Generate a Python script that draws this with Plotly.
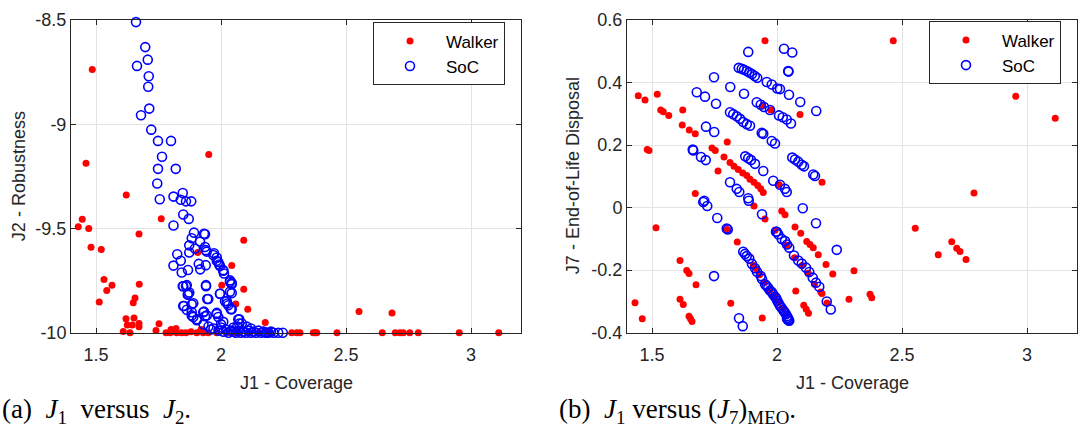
import plotly.graph_objects as go

# ---------------- data: (a) J1 vs J2 ----------------
walker_a_x = [1.485, 1.46, 1.951, 1.621, 1.761, 1.445, 1.429, 1.471, 1.672, 1.48, 1.521, 2.091,
              1.907, 2.043, 1.532, 1.564, 1.543, 1.673, 2.003, 2.091, 1.513, 1.656, 1.649, 2.059,
              2.107, 2.177, 1.752, 1.62, 1.652, 1.672, 1.672, 1.625, 1.645, 1.609, 1.636, 1.74,
              1.78, 1.796, 1.809, 1.823, 1.843, 1.86, 1.88, 1.903, 1.929, 1.949, 1.983, 2.023,
              2.063, 2.116, 2.156, 2.196, 2.283, 2.303, 2.316, 2.369, 2.377, 2.383, 2.464, 2.645,
              2.697, 2.716, 2.729, 2.755, 2.789, 2.953, 3.111, 1.80, 1.82, 1.92, 2.552, 2.684]
walker_a_y = [-8.737, -9.187, -9.145, -9.339, -9.453, -9.456, -9.492, -9.50, -9.526, -9.59, -9.601, -9.556,
              -9.615, -9.678, -9.745, -9.772, -9.798, -9.767, -9.772, -9.792, -9.853, -9.833, -9.856, -9.862,
              -9.887, -9.951, -9.957, -9.933, -9.930, -9.956, -9.971, -9.963, -9.963, -9.994, -10.0, -9.99,
              -10.0, -10.0, -9.995, -10.0, -10.0, -10.0, -9.995, -10.0, -10.0, -10.0, -10.0, -10.0,
              -10.0, -10.0, -10.0, -10.0, -10.0, -10.0, -10.0, -10.0, -10.0, -10.0, -10.0, -10.0,
              -10.0, -10.0, -10.0, -10.0, -10.0, -10.0, -10.0, -9.985, -9.98, -9.985, -9.898, -9.905]

soc_a_x = [1.66, 1.697, 1.707, 1.664, 1.711, 1.709, 1.713, 1.68, 1.721, 1.748, 1.80, 1.764, 1.748,
           1.819, 1.745, 1.847, 1.755, 1.81, 1.839, 1.86, 1.881, 1.849, 1.871, 1.81, 1.892, 1.936,
           1.883, 1.916, 1.873, 1.896, 1.936, 1.939, 1.873, 1.825, 1.839, 1.969, 1.983, 1.993, 1.81,
           1.911, 1.939, 1.917, 1.843, 1.868, 2.009, 2.012, 2.036, 2.043, 1.849, 1.863, 1.94, 1.867,
           1.873, 1.996, 2.043, 1.945, 2.023, 2.029, 1.852, 1.889, 1.863, 1.883, 2.043, 1.932, 1.983,
           2.073, 1.889, 1.905, 1.943, 2.083, 2.103, 2.009, 1.932, 1.943, 1.972, 1.983, 1.989, 1.996,
           2.009, 2.036, 2.043, 2.036, 1.847, 1.86, 1.869, 1.94, 1.949, 1.996, 1.849, 1.883, 2.016,
           2.025, 2.039, 1.883, 1.903, 1.929, 1.936, 1.983, 1.989, 2.069, 2.073,
           1.93, 1.95, 1.97, 1.99, 2.0, 2.01, 2.02, 2.03, 2.04, 2.05, 2.06, 2.07, 2.08, 2.09, 2.10,
           2.11, 2.12, 2.13, 2.14, 2.15, 2.16, 2.17, 2.18, 2.19, 2.2, 2.21, 2.229, 2.247, 2.183,
           1.96, 2.0, 2.05, 2.12, 2.065]
soc_a_y = [-8.51, -8.63, -8.69, -8.72, -8.77, -8.82, -8.925, -8.957, -9.026, -9.08, -9.08, -9.156, -9.214,
           -9.214, -9.284, -9.33, -9.36, -9.347, -9.362, -9.37, -9.37, -9.433, -9.454, -9.486, -9.52, -9.528,
           -9.547, -9.563, -9.581, -9.596, -9.589, -9.604, -9.615, -9.624, -9.655, -9.627, -9.655, -9.673, -9.678,
           -9.67, -9.676, -9.696, -9.711, -9.699, -9.70, -9.716, -9.749, -9.761, -9.777, -9.772, -9.772, -9.818,
           -9.807, -9.813, -9.81, -9.838, -9.849, -9.868, -9.872, -9.859, -9.89, -9.902, -9.887, -9.899, -9.905,
           -9.936, -9.925, -9.936, -9.917, -9.956, -9.971, -9.948, -9.525, -9.611, -9.619, -9.639, -9.661, -9.68,
           -9.703, -9.757, -9.767, -9.803, -9.777, -9.777, -9.813, -9.777, -9.838, -9.813, -9.872, -9.864, -9.849,
           -9.86, -9.887, -9.917, -9.94, -9.902, -9.921, -9.91, -9.925, -9.936, -9.956,
           -9.96, -9.97, -9.98, -9.99, -9.975, -9.995, -9.985, -10.0, -9.99, -9.995, -10.0, -9.99, -10.0, -9.995, -10.0,
           -9.99, -10.0, -9.995, -10.0, -9.99, -10.0, -9.995, -10.0, -10.0, -9.995, -10.0, -10.0, -10.0, -10.0,
           -9.985, -9.96, -9.975, -9.98, -9.97]

# ---------------- data: (b) J1 vs (J7)MEO ----------------
walker_b_x = [1.952, 1.445, 1.472, 1.521, 1.535, 1.545, 1.567, 1.623, 1.621, 1.649, 1.673, 1.481, 1.488,
              1.801, 1.943, 1.975, 2.092, 1.74, 1.753, 1.788, 1.764, 1.812, 1.828, 1.845, 1.863, 1.879,
              1.892, 1.908, 1.923, 1.935, 1.945, 2.009, 2.18, 1.673, 1.908, 1.952, 2.019, 2.032, 1.516,
              1.801, 1.992, 2.072, 2.095, 1.841, 2.119, 2.132, 2.145, 2.165, 2.196, 2.223, 1.612, 1.639,
              1.648, 1.676, 1.905, 1.919, 2.075, 2.107, 2.117, 2.126, 2.18, 1.432, 1.461, 1.612, 1.625,
              1.648, 1.654, 1.66, 1.815, 1.941, 2.465, 2.955, 3.113, 2.788, 2.553, 2.699, 2.719, 2.732,
              2.645, 2.756, 2.308, 2.288, 2.372, 2.379,
              1.93, 1.95, 1.97, 1.99, 2.005, 2.02, 2.035, 2.04, 2.07, 2.1, 2.125, 2.15, 2.175, 2.2]
walker_b_y = [0.534, 0.358, 0.344, 0.363, 0.312, 0.307, 0.295, 0.312, 0.264, 0.248, 0.236, 0.186, 0.183,
              0.21, 0.327, 0.312, 0.298, 0.191, 0.183, 0.162, 0.117, 0.144, 0.132, 0.122, 0.111, 0.103,
              0.091, 0.081, 0.071, 0.06, 0.048, 0.073, 0.081, 0.045, 0.005, -0.036, -0.011, -0.023, -0.064,
              -0.07, -0.072, -0.062, -0.082, -0.11, -0.108, -0.118, -0.128, -0.151, -0.182, -0.212, -0.169, -0.201,
              -0.211, -0.247, -0.184, -0.196, -0.267, -0.312, -0.325, -0.338, -0.275, -0.304, -0.355, -0.293, -0.31,
              -0.347, -0.355, -0.364, -0.306, -0.353, 0.534, 0.356, 0.286, 0.047, -0.066, -0.109, -0.13, -0.14,
              -0.151, -0.166, -0.202, -0.293, -0.277, -0.288,
              -0.215, -0.24, -0.265, -0.285, -0.30, -0.32, -0.345, -0.12, -0.16, -0.185, -0.21, -0.245, -0.27, -0.305]

soc_b_x = [1.885, 2.028, 2.061, 1.847, 1.859, 1.868, 1.879, 1.889, 1.90, 1.911, 1.921, 1.959, 1.979, 2.001,
           2.012, 2.045, 2.046, 2.048, 2.093, 2.157, 1.748, 1.813, 1.868, 1.679, 1.712, 1.756, 1.919, 1.935,
           1.948, 1.972, 1.812, 1.825, 1.839, 1.852, 1.865, 1.879, 1.892, 1.939, 1.945, 1.979, 1.992, 2.008,
           2.023, 2.039, 2.056, 1.716, 1.749, 1.663, 1.665, 1.696, 1.715, 1.873, 1.885, 1.896, 1.912, 1.945,
           1.985, 2.012, 2.032, 2.039, 2.061, 2.072, 2.085, 2.099, 2.108, 2.145, 2.152, 1.812, 1.839, 1.849,
           1.885, 1.709, 1.705, 1.721, 1.761, 1.799, 1.803, 1.887, 1.94, 1.996, 2.103, 2.156, 2.239,
           1.865, 1.872, 1.879, 1.889, 1.90, 1.912, 1.92, 1.935, 1.94, 1.952, 1.958, 1.965, 1.972, 1.979,
           1.985, 1.992, 1.997, 2.001, 2.006, 2.012, 2.018, 2.025, 2.03, 2.036, 2.04, 2.043, 2.046, 2.049,
           2.045, 2.04,
           1.999, 2.005, 2.019, 2.032, 2.04, 2.049, 2.068, 2.085, 2.099, 2.116, 2.129, 2.143, 2.156, 2.169,
           2.199, 2.215, 1.748, 1.848, 1.863]
soc_b_y = [0.498, 0.508, 0.496, 0.447, 0.444, 0.441, 0.437, 0.432, 0.427, 0.421, 0.415, 0.402, 0.394, 0.381,
           0.379, 0.437, 0.435, 0.361, 0.338, 0.309, 0.417, 0.386, 0.364, 0.369, 0.355, 0.332, 0.337, 0.329,
           0.322, 0.312, 0.305, 0.299, 0.292, 0.284, 0.274, 0.267, 0.262, 0.239, 0.236, 0.213, 0.205, 0.295,
           0.289, 0.282, 0.269, 0.259, 0.242, 0.186, 0.183, 0.162, 0.152, 0.164, 0.158, 0.152, 0.14, 0.117,
           0.086, 0.073, 0.06, 0.05, 0.16, 0.154, 0.147, 0.137, 0.132, 0.106, 0.101, 0.081, 0.06, 0.05,
           0.03, 0.022, 0.018, 0.005, -0.033, -0.067, -0.07, 0.022, -0.021, -0.077, -0.002, -0.05, -0.135,
           -0.141, -0.148, -0.155, -0.163, -0.18, -0.194, -0.205, -0.219, -0.228, -0.245, -0.25, -0.257, -0.265, -0.27,
           -0.278, -0.285, -0.29, -0.298, -0.305, -0.314, -0.32, -0.328, -0.334, -0.341, -0.347, -0.352, -0.357, -0.362,
           -0.36, -0.355,
           -0.077, -0.085, -0.10, -0.107, -0.118, -0.128, -0.153, -0.169, -0.179, -0.192, -0.206, -0.224, -0.24, -0.253,
           -0.30, -0.326, -0.219, -0.354, -0.379]

x_ticks = [1.5, 2, 2.5, 3]
x_ticktext = ["1.5", "2", "2.5", "3"]
ya_ticks = [-10, -9.5, -9, -8.5]
ya_ticktext = ["-10", "-9.5", "-9", "-8.5"]
yb_ticks = [-0.4, -0.2, 0, 0.2, 0.4, 0.6]
yb_ticktext = ["-0.4", "-0.2", "0", "0.2", "0.4", "0.6"]

W, H = 1079, 442
FONT = "Liberation Sans, Arial, Helvetica, sans-serif"
AX = "#262626"
GRID = "#e3e3e3"
RED = "#ff0000"
BLUE = "#0000ff"

fig = go.Figure()
fig.add_trace(go.Scatter(x=walker_a_x, y=walker_a_y, mode="markers", name="Walker",
                         marker=dict(color=RED, size=7, line=dict(width=0)),
                         xaxis="x", yaxis="y", legend="legend", cliponaxis=False))
fig.add_trace(go.Scatter(x=soc_a_x, y=soc_a_y, mode="markers", name="SoC",
                         marker=dict(symbol="circle-open", color=BLUE, size=9, line=dict(width=1.6, color=BLUE)),
                         xaxis="x", yaxis="y", legend="legend", cliponaxis=False))
fig.add_trace(go.Scatter(x=walker_b_x, y=walker_b_y, mode="markers", name="Walker",
                         marker=dict(color=RED, size=7, line=dict(width=0)),
                         xaxis="x2", yaxis="y2", legend="legend2", cliponaxis=False))
fig.add_trace(go.Scatter(x=soc_b_x, y=soc_b_y, mode="markers", name="SoC",
                         marker=dict(symbol="circle-open", color=BLUE, size=9, line=dict(width=1.6, color=BLUE)),
                         xaxis="x2", yaxis="y2", legend="legend2", cliponaxis=False))

def px(v):
    return v / W

def py(v):
    return 1 - v / H

common_axis = dict(showline=True, linecolor=AX, linewidth=1, mirror="ticks", ticks="inside",
                   ticklen=5, tickcolor=AX, tickwidth=1, showgrid=True, gridcolor=GRID, gridwidth=1,
                   zeroline=False, tickfont=dict(family=FONT, size=18, color=AX))

ydom = [py(338), py(10.5)]
leg_common = dict(xanchor="right", yanchor="top", bgcolor="white",
                  bordercolor=AX, borderwidth=1, font=dict(family=FONT, size=17, color="black"),
                  itemwidth=62, tracegroupgap=0)
fig.update_layout(
    width=W, height=H, margin=dict(l=0, r=0, t=0, b=0),
    paper_bgcolor="white", plot_bgcolor="white",
    xaxis=dict(domain=[px(71), px(521)], range=[1.4, 3.2], tickvals=x_ticks, ticktext=x_ticktext,
               anchor="y", ticklabelstandoff=6, **common_axis),
    yaxis=dict(domain=ydom, range=[-10, -8.5], tickvals=ya_ticks, ticktext=ya_ticktext,
               anchor="x", **common_axis),
    xaxis2=dict(domain=[px(627), px(1077)], range=[1.4, 3.2], tickvals=x_ticks, ticktext=x_ticktext,
                anchor="y2", ticklabelstandoff=6, **common_axis),
    yaxis2=dict(domain=ydom, range=[-0.4, 0.6], tickvals=yb_ticks, ticktext=yb_ticktext,
                anchor="x2", **common_axis),
    legend=dict(x=px(505), y=py(13), **leg_common),
    legend2=dict(x=px(1061), y=py(12), **leg_common),
    showlegend=True,
)

ann_font = dict(family=FONT, size=18, color=AX)
cap_font = dict(family="Liberation Serif, DejaVu Serif, serif", size=27, color="black")
fig.add_annotation(text="J1 - Coverage", x=px(296), y=py(391), xref="paper", yref="paper",
                   showarrow=False, font=ann_font, xanchor="center", yanchor="middle")
fig.add_annotation(text="J1 - Coverage", x=px(852), y=py(391), xref="paper", yref="paper",
                   showarrow=False, font=ann_font, xanchor="center", yanchor="middle")
fig.add_annotation(text="J2 - Robustness", x=px(19), y=py(174), xref="paper", yref="paper",
                   showarrow=False, font=ann_font, textangle=-90, xanchor="center", yanchor="middle")
fig.add_annotation(text="J7 - End-of-Life Disposal", x=px(573), y=py(174), xref="paper", yref="paper",
                   showarrow=False, font=ann_font, textangle=-90, xanchor="center", yanchor="middle")
fig.add_annotation(text="(a)  <i>J</i><sub>1</sub>  versus  <i>J</i><sub>2</sub>.",
                   x=px(0), y=py(420), xref="paper", yref="paper", showarrow=False,
                   font=cap_font, xanchor="left", yanchor="middle")
fig.add_annotation(text="(b)  <i>J</i><sub>1</sub> versus (<i>J</i><sub>7</sub>)<sub>MEO</sub>.",
                   x=px(557), y=py(420), xref="paper", yref="paper", showarrow=False,
                   font=cap_font, xanchor="left", yanchor="middle")

fig.write_html("out.html")
